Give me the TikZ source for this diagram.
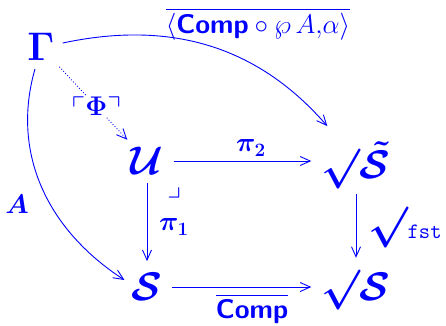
\documentclass[tikz,border=0pt]{standalone}
\usepackage{fix-cm}
\usepackage{amsmath,amssymb}
\usetikzlibrary{arrows.meta}
\colorlet{dblue}{blue}
\begin{document}
\begin{tikzpicture}[x=1pt,y=-1pt,
  every node/.style={text=dblue},
  obj/.style={inner sep=0pt, font=\fontsize{40}{46}\selectfont\boldmath},
  lab/.style={inner sep=1pt, font=\fontsize{27}{31}\selectfont\boldmath},
  arr/.style={draw=dblue, line width=0.9pt, -{Straight Barb[length=10pt,width=9pt]}}
]
\useasboundingbox (0,0) rectangle (446,325);
\node[obj] (G) at (41,47) {$\Gamma$};
\node[obj] (U) at (147,161) {$\mathcal{U}$};
\node[obj] (T) at (356,165) {$\surd\tilde{\mathcal{S}}$};
\node[obj] (S) at (147,287) {$\mathcal{S}$};
\node[obj] (R) at (356,290) {$\surd\mathcal{S}$};

% labels
\node[lab] (p2) at (251,148) {$\pi_2$};
\node[lab] (p1) at (174,227) {$\pi_1$};
\node[lab, inner sep=0pt] (fst) at (405,228) {{\fontsize{41}{45}\selectfont$\surd$}{\fontsize{22}{26}\selectfont\texttt{fst}}};
\node[lab] (comp) at (252,309) {$\overline{\mbox{\sffamily\bfseries Comp}}$};
\node[lab, font=\fontsize{27}{31}\selectfont\unboldmath] (top) at (258,24) {$\overline{\langle\mbox{\sffamily\bfseries Comp}\circ\wp\,A{,}\alpha\rangle}$};
\node[lab] (Alab) at (17,204) {$A$};
\node[lab, inner sep=0pt] (corner) at (174,192) {$\lrcorner$};

% connectors
\draw[arr, shorten <=10pt, shorten >=10pt] (U.east) -- (U.east -| T.west);
\draw[arr, shorten <=8pt, shorten >=12pt] (U.south) -- (S.north);
\draw[arr, shorten <=5pt, shorten >=12pt] (T.south) -- (R.north);
\draw[arr, shorten <=9pt, shorten >=10pt] (S.east) -- (S.east -| R.west);
\draw[arr] ([xshift=8pt,yshift=4pt]G.east) to[out=12,in=131] ([xshift=6pt,yshift=15pt]T.north west);
\draw[arr] ([xshift=-6pt,yshift=-8pt]G.south) to[out=-106,in=147] ([xshift=-7pt,yshift=7pt]S.west);
\draw[arr, dotted, shorten <=8pt, shorten >=10pt] (G) -- (U) node[pos=0.53, lab, fill=white, inner sep=1pt] (phi) {$\ulcorner\Phi\urcorner$};
\end{tikzpicture}
\end{document}
